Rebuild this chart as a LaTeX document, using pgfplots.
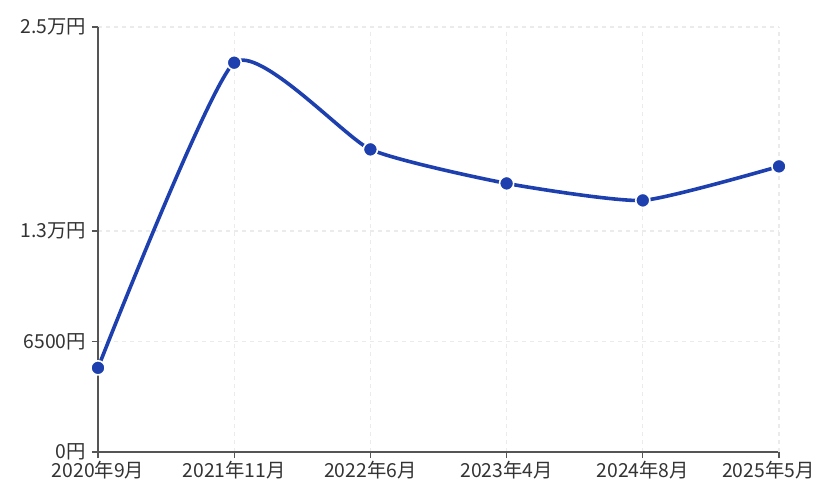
\documentclass[border=0pt]{standalone}
\usepackage{fontspec}
\setmainfont{Noto Sans CJK JP}
\usepackage{pgfplots}
\pgfplotsset{compat=1.18}
\definecolor{lineblue}{HTML}{1E40AF}
\definecolor{axisgray}{HTML}{555555}
\definecolor{textgray}{HTML}{333333}
\definecolor{gridgray}{HTML}{EBEBEB}
\begin{document}
\begin{tikzpicture}
\begin{axis}[
    scale only axis,
    width=510.75pt, height=318.75pt,
    xmin=0, xmax=5, ymin=0, ymax=25000,
    scaled y ticks=false,
    axis lines*=left,
    axis line style={axisgray, line width=0.9pt},
    tick align=outside,
    major tick length=4.5pt,
    tick style={axisgray, line width=0.9pt},
    xtick={0,1,2,3,4},
    xticklabels={2020年9月,2021年11月,2022年6月,2023年4月,2024年8月},
    extra x ticks={5},
    extra x tick labels={2025年5月},
    extra x tick style={xticklabel style={xshift=-8pt}},
    ytick={0,6500,13000,25000},
    yticklabels={0円,6500円,1.3万円,2.5万円},
    ticklabel style={font=\fontsize{14.5pt}{16pt}\selectfont, text=textgray},
    xticklabel style={yshift=1.5pt},
    yticklabel style={xshift=-1pt},
    grid=major,
    major grid style={gridgray, dash pattern=on 3pt off 3pt, line width=0.8pt},
    clip=false,
]
\addplot[lineblue, line width=2.7pt, smooth, tension=0.32,
    mark=*, mark size=5.3pt,
    mark options={fill=lineblue, draw=white, line width=1.2pt}]
coordinates {
    (0,4950) (1,22900) (2,17800) (3,15800) (4,14800) (5,16800)
};
\coordinate (sw) at (rel axis cs:0,0);
\end{axis}
\pgfresetboundingbox
\path ([xshift=-73.5pt, yshift=-38.25pt]sw) rectangle ([xshift=539.25pt, yshift=339pt]sw);
\end{tikzpicture}
\end{document}
